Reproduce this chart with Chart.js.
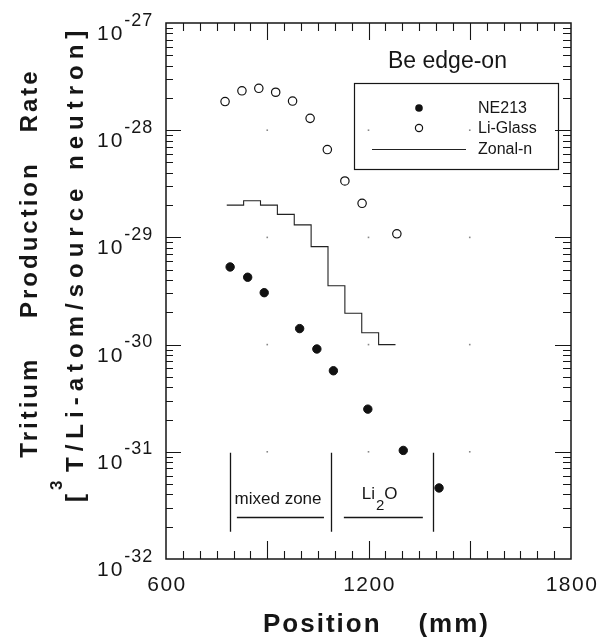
<!DOCTYPE html>
<html>
<head>
<meta charset="utf-8">
<script src="https://cdn.jsdelivr.net/npm/chart.js@4.4.0/dist/chart.umd.min.js"></script>
<style>
  html, body { margin: 0; padding: 0; background: #fff; }
  canvas { display: block; }
</style>
</head>
<body>
<canvas id="tpr-chart" width="612" height="641"></canvas>
<script>
// Tritium production rate vs. position, Be edge-on
const ne213Pos  = [790, 842, 891, 996, 1047, 1096, 1198, 1303, 1409];
const ne213Rate = [5.3e-30, 4.25e-30, 3.05e-30, 1.41e-30, 9.1e-31, 5.7e-31, 2.5e-31, 1.03e-31, 4.6e-32];

const liGlassPos  = [775, 825, 875, 925, 975, 1027, 1078, 1130, 1181, 1284];
const liGlassRate = [1.85e-28, 2.33e-28, 2.46e-28, 2.26e-28, 1.87e-28, 1.29e-28, 6.6e-29, 3.36e-29, 2.08e-29, 1.08e-29];

// zonal calculation: one value per 50 mm zone, edges listed left to right
const zoneEdges = [780, 830, 880, 930, 980, 1030, 1080, 1130, 1180, 1230, 1280];
const zonalRate = [2.0e-29, 2.2e-29, 2.0e-29, 1.64e-29, 1.31e-29, 8.2e-30, 3.54e-30, 1.96e-30, 1.29e-30, 1.0e-30];

const xLabels  = [600, 1200, 1800];
const xMajor   = [900, 1500];
const yDecades = [-32, -31, -30, -29, -28, -27];

// blanket layers marked under the data
const layerBounds = [790, 1090, 1390];
const layerSpans  = [[810, 1068], [1127, 1361]];

const FONT = '"Liberation Sans", Arial, Helvetica, sans-serif';
const INK = '#161616';

const toPoints = (xs, ys) => xs.map((v, i) => ({ x: v, y: ys[i] }));
const zonalPoints = zoneEdges.map((v, i) => ({ x: v, y: zonalRate[Math.min(i, zonalRate.length - 1)] }));

const paperFrame = {
  id: 'paperFrame',
  afterDraw(chart) {
    const { ctx, chartArea: a, scales: { x, y } } = chart;
    ctx.save();

    // little dots where major grid lines cross
    ctx.fillStyle = '#888';
    for (const gx of xMajor.concat([1200])) {
      for (const d of yDecades) {
        const px = x.getPixelForValue(gx), py = y.getPixelForValue(10 ** d);
        if (py <= a.top + 2 || py >= a.bottom - 2) continue;
        ctx.fillRect(px - 0.8, py - 0.8, 1.6, 1.6);
      }
    }

    ctx.strokeStyle = INK;
    ctx.fillStyle = INK;

    // box
    ctx.lineWidth = 1.5;
    ctx.strokeRect(a.left, a.top, a.right - a.left, a.bottom - a.top);

    // inward ticks on all four sides
    ctx.lineWidth = 1.1;
    ctx.beginPath();
    for (let v = 650; v < 1800; v += 50) {
      const px = Math.round(x.getPixelForValue(v)) + 0.5;
      const major = v % 300 === 0;
      ctx.moveTo(px, a.bottom); ctx.lineTo(px, a.bottom - (major ? 18 : 8));
      ctx.moveTo(px, a.top);    ctx.lineTo(px, a.top + (major ? 17 : 8));
    }
    for (let d = -32; d < -27; d++) {
      for (let k = 1; k <= 9; k++) {
        if (d === -32 && k === 1) continue;
        const py = Math.round(y.getPixelForValue(k * 10 ** d)) + 0.5;
        const len = k === 1 ? 15 : 7;
        ctx.moveTo(a.left, py);  ctx.lineTo(a.left + len, py);
        ctx.moveTo(a.right, py); ctx.lineTo(a.right - len - 1, py);
      }
    }
    ctx.stroke();

    // y tick labels 10^n
    ctx.textAlign = 'left';
    ctx.textBaseline = 'alphabetic';
    for (const d of yDecades) {
      const py = y.getPixelForValue(10 ** d);
      ctx.font = '21px ' + FONT;
      ctx.letterSpacing = '2px';
      ctx.fillText('10', 97, py + 17);
      const w = ctx.measureText('10').width;
      ctx.font = '18px ' + FONT;
      ctx.letterSpacing = '1px';
      ctx.fillText('-' + String(-d), 97 + w, py + 2.5);
    }

    // x tick labels
    ctx.font = '21px ' + FONT;
    ctx.letterSpacing = '1.5px';
    ctx.textAlign = 'center';
    for (const v of xLabels) {
      ctx.fillText(String(v), x.getPixelForValue(v) + 1, 591);
    }

    // axis titles
    ctx.font = 'bold 26px ' + FONT;
    ctx.letterSpacing = '2px';
    ctx.textAlign = 'left';
    ctx.fillText('Position    (mm)', 263, 632);

    ctx.save();
    ctx.translate(37, 263);
    ctx.rotate(-Math.PI / 2);
    ctx.font = 'bold 24px ' + FONT;
    ctx.letterSpacing = '3px';
    ctx.textAlign = 'center';
    ctx.fillText('Tritium    Production   Rate', 0, 0);
    ctx.restore();

    ctx.save();
    ctx.translate(83, 502);
    ctx.rotate(-Math.PI / 2);
    ctx.textAlign = 'left';
    ctx.font = 'bold 24px ' + FONT;
    ctx.letterSpacing = '6px';
    ctx.fillText('[', 0, 0);
    ctx.font = 'bold 17px ' + FONT;
    ctx.letterSpacing = '0px';
    ctx.fillText('3', 12, -21);
    ctx.font = 'bold 24px ' + FONT;
    ctx.letterSpacing = '6px';
    ctx.fillText('T/Li-atom/source neutron]', 30, 0);
    ctx.restore();

    // run label
    ctx.font = '23px ' + FONT;
    ctx.letterSpacing = '0px';
    ctx.textAlign = 'left';
    ctx.fillText('Be edge-on', 388, 68);

    // legend
    const [ne, lg, zn] = chart.data.datasets;
    ctx.lineWidth = 1.2;
    ctx.strokeRect(354.5, 83.5, 204, 86);
    ctx.font = '16px ' + FONT;
    ctx.textBaseline = 'middle';
    ctx.fillText(ne.label, 478, 109);
    ctx.fillText(lg.label, 478, 129);
    ctx.fillText(zn.label, 478, 150);
    ctx.beginPath();
    ctx.fillStyle = ne.backgroundColor;
    ctx.arc(419, 108, 3.8, 0, Math.PI * 2);
    ctx.fill();
    ctx.beginPath();
    ctx.fillStyle = lg.backgroundColor;
    ctx.strokeStyle = lg.borderColor;
    ctx.lineWidth = lg.borderWidth;
    ctx.arc(419, 128, 3.6, 0, Math.PI * 2);
    ctx.fill(); ctx.stroke();
    ctx.beginPath();
    ctx.strokeStyle = zn.borderColor;
    ctx.lineWidth = zn.borderWidth;
    ctx.moveTo(372, 149.5); ctx.lineTo(466, 149.5);
    ctx.stroke();

    // layer markers along the bottom
    ctx.strokeStyle = INK;
    ctx.fillStyle = INK;
    ctx.lineWidth = 1.3;
    ctx.beginPath();
    const top = y.getPixelForValue(9.8e-32), bot = y.getPixelForValue(1.8e-32);
    for (const b of layerBounds) {
      const px = Math.round(x.getPixelForValue(b)) + 0.5;
      ctx.moveTo(px, top); ctx.lineTo(px, bot);
    }
    const hy = Math.round(y.getPixelForValue(2.48e-32)) + 0.5;
    for (const [s, e] of layerSpans) {
      ctx.moveTo(x.getPixelForValue(s), hy); ctx.lineTo(x.getPixelForValue(e), hy);
    }
    ctx.stroke();

    ctx.textBaseline = 'alphabetic';
    ctx.textAlign = 'center';
    ctx.font = '17px ' + FONT;
    ctx.fillText('mixed zone', x.getPixelForValue(932), y.getPixelForValue(3.26e-32));

    // Li2O with subscript
    ctx.textAlign = 'left';
    const lx = x.getPixelForValue(1180), ly = y.getPixelForValue(3.63e-32);
    ctx.font = '17px ' + FONT;
    ctx.fillText('Li', lx, ly);
    const wLi = ctx.measureText('Li').width;
    ctx.font = '15px ' + FONT;
    ctx.fillText('2', lx + wLi + 1, ly + 11);
    const w2 = ctx.measureText('2').width;
    ctx.font = '17px ' + FONT;
    ctx.fillText('O', lx + wLi + w2 + 1, ly);

    ctx.restore();
  }
};

new Chart(document.getElementById('tpr-chart'), {
  type: 'scatter',
  data: {
    datasets: [
      {
        label: 'NE213',
        data: toPoints(ne213Pos, ne213Rate),
        pointRadius: 4.2,
        backgroundColor: '#111',
        borderColor: '#111',
        borderWidth: 1
      },
      {
        label: 'Li-Glass',
        data: toPoints(liGlassPos, liGlassRate),
        pointRadius: 4.2,
        backgroundColor: '#fff',
        borderColor: '#111',
        borderWidth: 1.2
      },
      {
        label: 'Zonal-n',
        data: zonalPoints,
        showLine: true,
        stepped: 'before',
        pointRadius: 0,
        borderColor: '#222',
        borderWidth: 1.1,
        fill: false
      }
    ]
  },
  options: {
    responsive: false,
    animation: false,
    devicePixelRatio: 1,
    events: [],
    layout: { padding: { left: 166, right: 41, top: 23, bottom: 82 } },
    scales: {
      x: { type: 'linear', min: 600, max: 1800, display: false },
      y: { type: 'logarithmic', min: 1e-32, max: 1e-27, display: false }
    },
    plugins: {
      legend: { display: false },
      tooltip: { enabled: false }
    }
  },
  plugins: [paperFrame]
});
</script>
</body>
</html>
